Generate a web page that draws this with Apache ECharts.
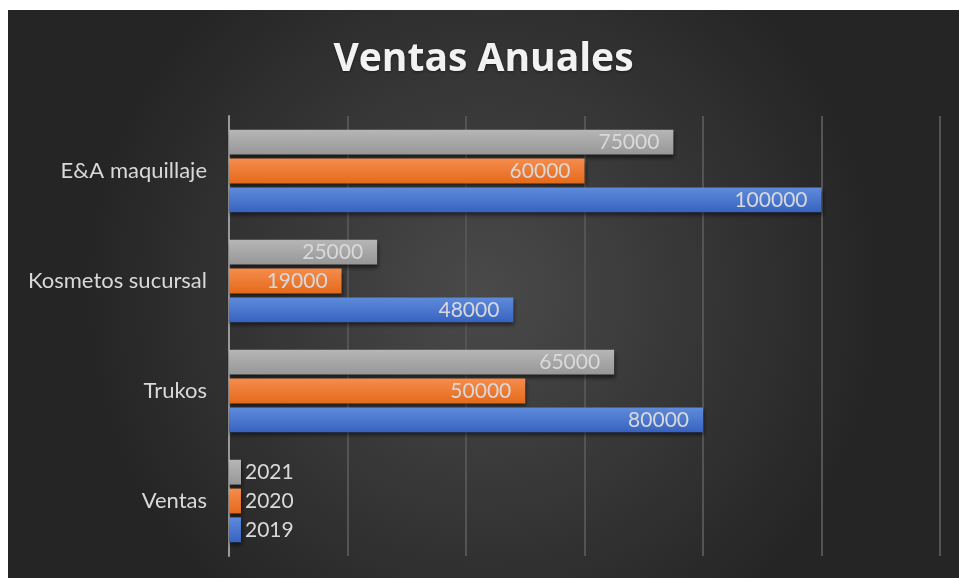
<!DOCTYPE html>
<html>
<head>
<meta charset="utf-8">
<script src="https://cdn.jsdelivr.net/npm/echarts@6/dist/echarts.min.js"></script>
<style>
  html, body { margin: 0; padding: 0; background: #fff; }
  #main { position: absolute; left: 8px; top: 10px; width: 951px; height: 568px; }
</style>
</head>
<body>
<div id="main"></div>
<script>
var categories = ['Ventas', 'Trukos', 'Kosmetos sucursal', 'E&A maquillaje'];
var values2019 = [2019, 80000, 48000, 100000];
var values2020 = [2020, 50000, 19000, 60000];
var values2021 = [2021, 65000, 25000, 75000];

var colors = {
    '2019': ['#5f8bdc', '#3763c0'],
    '2020': ['#f68c4c', '#e46a1c'],
    '2021': ['#b6b6b6', '#979797']
};

// first series is drawn at the top of each band, so 2021 goes first
function makeSeries(name, vals) {
    return {
        name: name,
        type: 'bar',
        barGap: '16%',
        barCategoryGap: '25%',
        data: vals.map(function (v, i) {
            var d = { value: v };
            if (i === 0) {
                d.label = { position: 'right', distance: 4 };
            }
            return d;
        }),
        itemStyle: {
            color: new echarts.graphic.LinearGradient(0, 0, 0, 1, [
                { offset: 0, color: colors[name][0] },
                { offset: 1, color: colors[name][1] }
            ]),
            shadowColor: 'rgba(0,0,0,0.55)',
            shadowBlur: 4,
            shadowOffsetY: 3,
            shadowOffsetX: 1
        },
        label: {
            show: true,
            position: 'insideRight',
            distance: 14,
            color: '#d9d9d9',
            fontSize: 21,
            fontFamily: 'Lato'
        }
    };
}

var chart = echarts.init(document.getElementById('main'));
chart.setOption({
    animation: false,
    backgroundColor: new echarts.graphic.RadialGradient(0.5, 0.5, 0.7, [
        { offset: 0, color: '#4a4a4a' },
        { offset: 1, color: '#252525' }
    ]),
    title: {
        text: 'Ventas Anuales',
        left: 'center',
        top: 25,
        textStyle: {
            color: '#f2f2f2',
            fontSize: 39,
            fontWeight: 'bold',
            fontFamily: 'Open Sans',
            textShadowColor: 'rgba(0,0,0,0.45)',
            textShadowBlur: 3,
            textShadowOffsetY: 1
        }
    },
    grid: { left: 221, right: 19, top: 106, bottom: 22 },
    xAxis: {
        type: 'value',
        min: 0,
        max: 120000,
        interval: 20000,
        axisLabel: { show: false },
        axisLine: { show: false },
        axisTick: { show: false },
        splitLine: { lineStyle: { color: '#545454', width: 2 } }
    },
    yAxis: {
        type: 'category',
        data: categories,
        axisTick: { show: false },
        axisLine: { lineStyle: { color: '#9a9a9a', width: 2 } },
        axisLabel: { color: '#d9d9d9', fontSize: 22, fontFamily: 'Lato', margin: 22 }
    },
    series: [
        makeSeries('2021', values2021),
        makeSeries('2020', values2020),
        makeSeries('2019', values2019)
    ]
});
</script>
</body>
</html>
